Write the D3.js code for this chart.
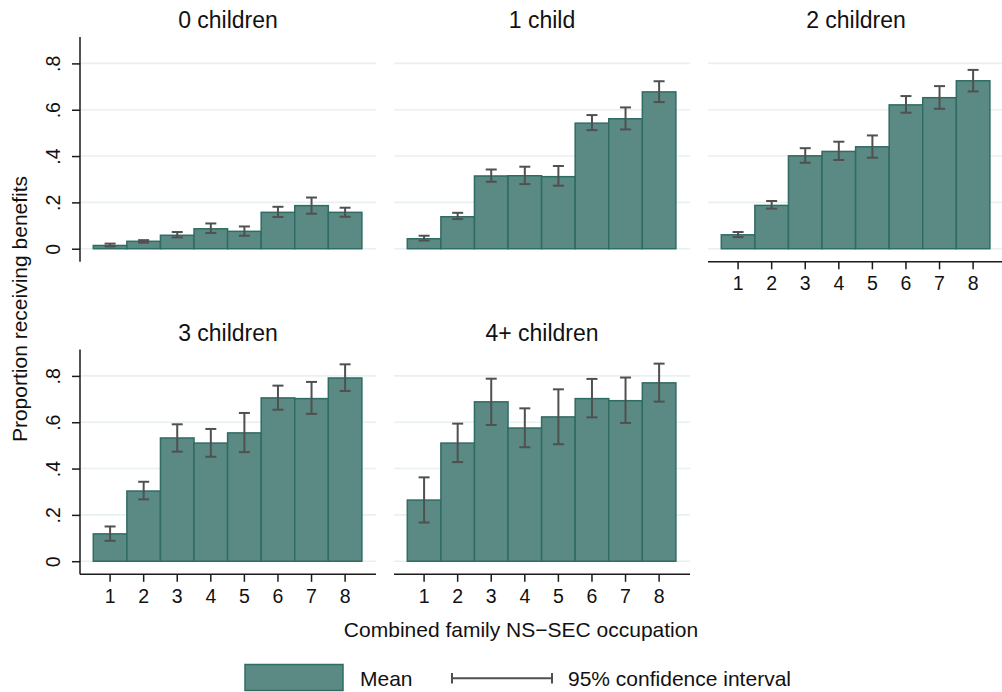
<!DOCTYPE html>
<html>
<head>
<meta charset="utf-8">
<script src="https://cdn.jsdelivr.net/npm/d3@7"></script>
<style>
  html, body { margin: 0; padding: 0; background: #fff; }
  svg { display: block; font-family: "Liberation Sans", Arial, Helvetica, sans-serif; }
</style>
</head>
<body>
<svg id="chart" width="1002" height="692"></svg>
<script>
// Family-size groups (one panel each) and the occupation categories on the x axis
const groups = ["0 children", "1 child", "2 children", "3 children", "4+ children"];
const occupations = [1, 2, 3, 4, 5, 6, 7, 8];
const yTicks = [0, 0.2, 0.4, 0.6, 0.8];

// Mean proportion receiving benefits, one array per group
const means0 = [0.014, 0.032, 0.058, 0.086, 0.075, 0.157, 0.186, 0.157];
const means1 = [0.043, 0.138, 0.314, 0.315, 0.311, 0.542, 0.561, 0.677];
const means2 = [0.060, 0.187, 0.401, 0.420, 0.440, 0.621, 0.652, 0.725];
const means3 = [0.118, 0.303, 0.532, 0.510, 0.554, 0.705, 0.702, 0.791];
const means4 = [0.264, 0.510, 0.688, 0.575, 0.623, 0.702, 0.693, 0.770];

// 95% confidence interval bounds
const lower0 = [0.010, 0.026, 0.049, 0.068, 0.056, 0.137, 0.151, 0.138];
const upper0 = [0.022, 0.037, 0.072, 0.109, 0.096, 0.181, 0.221, 0.177];
const lower1 = [0.035, 0.128, 0.289, 0.279, 0.272, 0.512, 0.515, 0.633];
const upper1 = [0.056, 0.155, 0.342, 0.354, 0.357, 0.577, 0.610, 0.723];
const lower2 = [0.050, 0.173, 0.371, 0.383, 0.393, 0.587, 0.604, 0.679];
const upper2 = [0.072, 0.206, 0.434, 0.462, 0.489, 0.659, 0.702, 0.772];
const lower3 = [0.088, 0.267, 0.473, 0.451, 0.471, 0.654, 0.636, 0.735];
const upper3 = [0.150, 0.343, 0.591, 0.571, 0.640, 0.758, 0.774, 0.850];
const lower4 = [0.167, 0.428, 0.588, 0.492, 0.505, 0.621, 0.597, 0.689];
const upper4 = [0.362, 0.594, 0.788, 0.660, 0.742, 0.787, 0.793, 0.853];

const meanSets = [means0, means1, means2, means3, means4];
const lowerSets = [lower0, lower1, lower2, lower3, lower4];
const upperSets = [upper0, upper1, upper2, upper3, upper4];

// Styling
const barFill = "#5a8a83";
const barStroke = "#2f6c63";
const ciColor = "#505050";
const gridColor = "#e8f0f1";
const axisColor = "#1a1a1a";
const textColor = "#111";
const tickFont = 19.5;

// Panel geometry
const panelW = 296, panelH = 224.8;
const colLeft = [80, 394, 708];
const rowTop = [37, 349.5];

const svg = d3.select("#chart");

const x = d3.scaleBand().domain(occupations).range([13.3, 281.9]).paddingInner(0).paddingOuter(0);
const y = d3.scaleLinear().domain([-0.0565, 0.914]).range([panelH, 0]);
const fmt = d => d === 0 ? "0" : d3.format(".1f")(d).replace(/^0\./, ".");

groups.forEach((title, gi) => {
  const col = gi % 3, row = Math.floor(gi / 3);
  const showY = col === 0;
  const showX = row === 1 || gi === 2;
  const g = svg.append("g").attr("transform", `translate(${colLeft[col]},${rowTop[row]})`);

  // horizontal gridlines
  g.selectAll("line.grid").data(yTicks).join("line")
    .attr("class", "grid")
    .attr("x1", 0).attr("x2", panelW)
    .attr("y1", d => y(d)).attr("y2", d => y(d))
    .attr("stroke", gridColor).attr("stroke-width", 1.6);

  const rows = occupations.map((o, i) => ({
    o, m: meanSets[gi][i], lo: lowerSets[gi][i], hi: upperSets[gi][i]
  }));

  // bars
  g.selectAll("rect.bar").data(rows).join("rect")
    .attr("class", "bar")
    .attr("x", d => x(d.o))
    .attr("width", x.bandwidth())
    .attr("y", d => y(d.m))
    .attr("height", d => y(0) - y(d.m))
    .attr("fill", barFill)
    .attr("stroke", barStroke)
    .attr("stroke-width", 1.5);

  // confidence intervals
  const cx = d => x(d.o) + x.bandwidth() / 2;
  const ci = g.selectAll("g.ci").data(rows).join("g").attr("class", "ci")
    .attr("stroke", ciColor).attr("stroke-width", 2);
  ci.append("line").attr("x1", cx).attr("x2", cx).attr("y1", d => y(d.lo)).attr("y2", d => y(d.hi));
  ci.append("line").attr("x1", d => cx(d) - 5.5).attr("x2", d => cx(d) + 5.5).attr("y1", d => y(d.lo)).attr("y2", d => y(d.lo));
  ci.append("line").attr("x1", d => cx(d) - 5.5).attr("x2", d => cx(d) + 5.5).attr("y1", d => y(d.hi)).attr("y2", d => y(d.hi));

  // panel title
  g.append("text")
    .attr("x", panelW / 2).attr("y", -8.7)
    .attr("text-anchor", "middle")
    .attr("font-size", 23).attr("fill", textColor)
    .text(title);

  if (showY) {
    const ya = g.append("g").call(d3.axisLeft(y).tickValues(yTicks).tickSize(8).tickFormat(fmt));
    ya.select(".domain").attr("d", `M0,0V${panelH}`).attr("stroke", axisColor).attr("stroke-width", 1.5);
    ya.selectAll(".tick line").attr("stroke", axisColor).attr("stroke-width", 1.5);
    ya.selectAll(".tick text")
      .attr("x", null).attr("dy", null)
      .attr("transform", "translate(-20,0) rotate(-90)")
      .attr("text-anchor", "middle")
      .attr("font-size", tickFont).attr("fill", textColor)
      .attr("font-family", "Liberation Sans, Arial, sans-serif");
  }

  if (showX) {
    const xa = g.append("g").attr("transform", `translate(0,${panelH})`)
      .call(d3.axisBottom(x).tickSize(7.5).tickSizeOuter(0));
    xa.select(".domain").attr("d", `M0,0H${panelW}`).attr("stroke", axisColor).attr("stroke-width", 1.5);
    xa.selectAll(".tick line").attr("stroke", axisColor).attr("stroke-width", 1.5);
    xa.selectAll(".tick text")
      .attr("y", 28.5).attr("dy", null)
      .attr("font-size", tickFont).attr("fill", textColor)
      .attr("font-family", "Liberation Sans, Arial, sans-serif");
  }
});

// Axis titles
svg.append("text")
  .attr("transform", "translate(27,309) rotate(-90)")
  .attr("text-anchor", "middle")
  .attr("font-size", 21).attr("fill", textColor)
  .text("Proportion receiving benefits");

svg.append("text")
  .attr("x", 521).attr("y", 636.7)
  .attr("text-anchor", "middle")
  .attr("font-size", 21).attr("fill", textColor)
  .text("Combined family NS\u2212SEC occupation");

// Legend
const legend = svg.append("g");
legend.append("rect")
  .attr("x", 245).attr("y", 664.5).attr("width", 98).attr("height", 26)
  .attr("fill", barFill).attr("stroke", barStroke).attr("stroke-width", 1.5);
legend.append("text")
  .attr("x", 360).attr("y", 685.5)
  .attr("font-size", 21).attr("fill", textColor)
  .text("Mean");
const lg = legend.append("g").attr("stroke", ciColor).attr("stroke-width", 2);
lg.append("line").attr("x1", 452).attr("x2", 552).attr("y1", 678.3).attr("y2", 678.3);
lg.append("line").attr("x1", 452).attr("x2", 452).attr("y1", 673).attr("y2", 683.5);
lg.append("line").attr("x1", 552).attr("x2", 552).attr("y1", 673).attr("y2", 683.5);
legend.append("text")
  .attr("x", 568).attr("y", 685.5)
  .attr("font-size", 21).attr("fill", textColor)
  .text("95% confidence interval");
</script>
</body>
</html>
